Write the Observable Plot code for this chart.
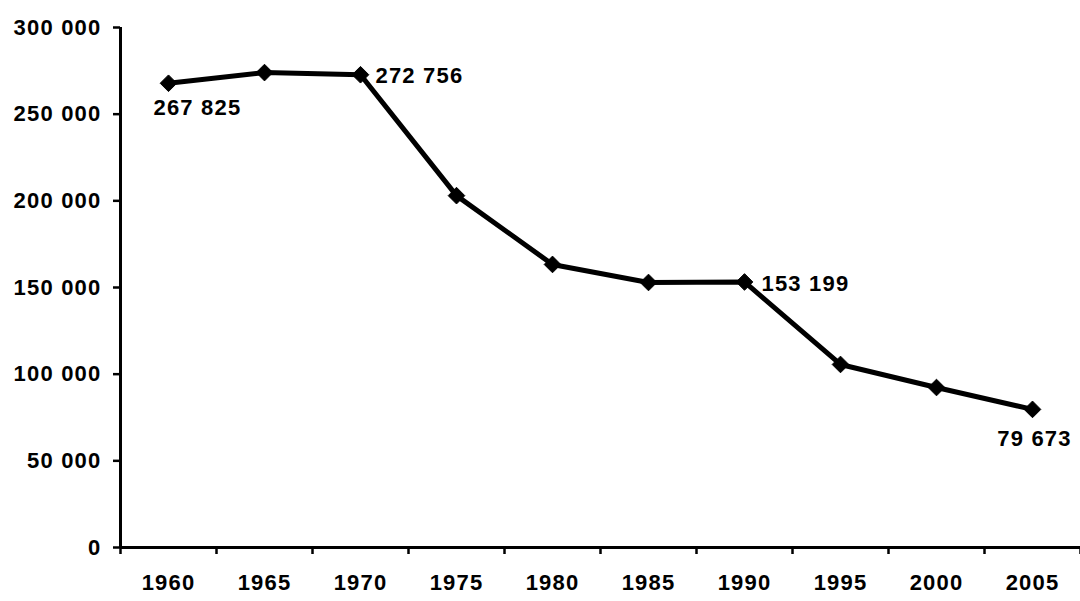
<!DOCTYPE html>
<html><head><meta charset="utf-8">
<script src="https://cdn.jsdelivr.net/npm/d3@7"></script>
<script src="https://cdn.jsdelivr.net/npm/@observablehq/plot@0.6"></script>
<style>
html,body{margin:0;padding:0;background:#fff;}
svg{font-family:"Liberation Sans",Arial,sans-serif;}
</style>
</head><body>
<div id="chart"></div>
<script>
const years = [1960, 1965, 1970, 1975, 1980, 1985, 1990, 1995, 2000, 2005];
const values = [267825, 274000, 272756, 203000, 163300, 152900, 153199, 105600, 92300, 79673];
const labelledYears = [1960, 1970, 1990, 2005];
const yTicks = [0, 50000, 100000, 150000, 200000, 250000, 300000];

const data = years.map((y, i) => ({year: y, value: values[i]}));
const fmt = v => d3.format(",")(v).replace(/,/g, " ");
const half = 2.5;
const boundaries = [...years.map(y => y - half), years[years.length - 1] + half];
const lab = y => data.filter(d => d.year === y);
const font = {fontSize: 22, fontWeight: "bold", fill: "black"};

const chart = Plot.plot({
  width: 1080,
  height: 601,
  marginLeft: 120,
  marginRight: 0,
  marginTop: 27,
  marginBottom: 54,
  style: {fontFamily: "Liberation Sans, Arial, sans-serif", fontSize: "22px", fontWeight: "bold", color: "black", background: "white", letterSpacing: "1.2px"},
  x: {type: "linear", domain: [boundaries[0], boundaries[boundaries.length - 1]]},
  y: {domain: [0, 300000]},
  marks: [
    Plot.axisY({ticks: yTicks, tickFormat: fmt, tickSize: 7, tickPadding: 12, label: null, strokeWidth: 2.5, fontSize: 22}),
    Plot.axisX({ticks: boundaries, tickFormat: () => "", tickSize: 7, label: null, strokeWidth: 2.5}),
    Plot.axisX({ticks: years, tickFormat: d => String(d), tickSize: 0, tickPadding: 27, label: null, fontSize: 22}),
    Plot.ruleX([boundaries[0]], {strokeWidth: 3}),
    Plot.ruleY([0], {strokeWidth: 3}),
    Plot.line(data, {x: "year", y: "value", stroke: "black", strokeWidth: 5}),
    Plot.dot(data, {x: "year", y: "value", symbol: "diamond2", r: 7.5, fill: "black", stroke: "black", strokeWidth: 1}),
    Plot.text(lab(1960), {x: "year", y: "value", text: d => fmt(d.value), textAnchor: "start", dx: -15, dy: 25, ...font}),
    Plot.text(lab(1970), {x: "year", y: "value", text: d => fmt(d.value), textAnchor: "start", dx: 15, dy: 1, ...font}),
    Plot.text(lab(1990), {x: "year", y: "value", text: d => fmt(d.value), textAnchor: "start", dx: 17, dy: 2, ...font}),
    Plot.text(lab(2005), {x: "year", y: "value", text: d => fmt(d.value), textAnchor: "middle", dx: 2, dy: 30, ...font})
  ]
});
document.getElementById("chart").appendChild(chart);
</script>
</body></html>
